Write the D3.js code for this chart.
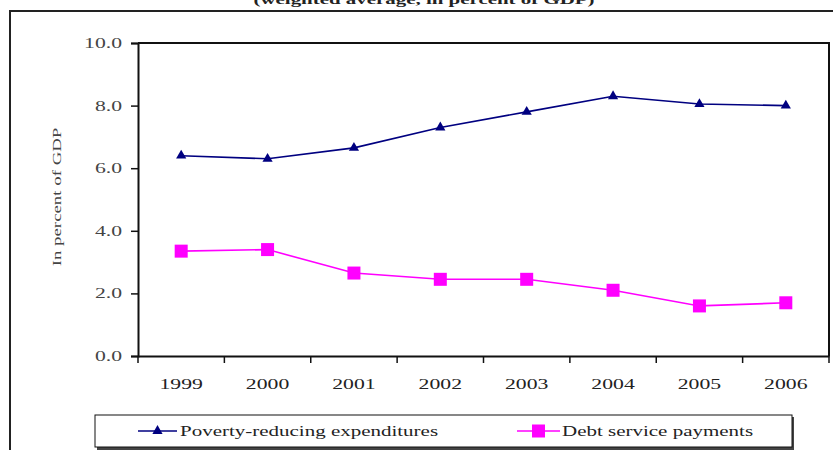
<!DOCTYPE html>
<html><head><meta charset="utf-8">
<script src="https://cdn.jsdelivr.net/npm/d3@7"></script>
<style>body{margin:0;background:#fff}svg{display:block}</style>
</head><body><svg id="c" width="833" height="450"></svg>
<script>
const years = ["1999","2000","2001","2002","2003","2004","2005","2006"];
const poverty = [6.4, 6.3, 6.65, 7.3, 7.8, 8.3, 8.05, 8.0];
const debt = [3.35, 3.4, 2.65, 2.45, 2.45, 2.1, 1.6, 1.7];
const yTicks = [0, 2, 4, 6, 8, 10];
const titleText = "(weighted average, in percent of GDP)";
const yLabel = "In percent of GDP";
const seriesNames = ["Poverty-reducing expenditures", "Debt service payments"];

const svg = d3.select("#c");
const font = "'Liberation Serif', 'Times New Roman', serif";
const SX = 1.55; // horizontal stretch of the source image's text
const L = 138, R = 829, T = 43, B = 356;

// outer frame
svg.append("rect").attr("x", 10).attr("y", 11).attr("width", 840).attr("height", 460)
  .attr("fill", "none").attr("stroke", "#222").attr("stroke-width", 2);

// title (cut off at top, as in the reference)
svg.append("text").attr("transform", `translate(424,4) scale(${SX},1)`).attr("text-anchor", "middle")
  .attr("font-family", font).attr("font-size", 13.5).attr("font-weight", "bold")
  .attr("fill", "#222").text(titleText);

const x = d3.scaleBand().domain(years).range([L, R]);
const y = d3.scaleLinear().domain([0, 10]).range([B, T]);

// plot frame top/right
svg.append("path").attr("d", `M${L},${T}H${R}V${B}`).attr("fill", "none")
  .attr("stroke", "#111").attr("stroke-width", 2);

// y axis
const ya = svg.append("g").attr("transform", `translate(${L},0)`)
  .call(d3.axisLeft(y).tickValues(yTicks).tickFormat(d3.format(".1f")).tickSize(7).tickPadding(9));
ya.select(".domain").attr("stroke", "#111").attr("stroke-width", 2);
ya.selectAll(".tick line").attr("stroke", "#111").attr("stroke-width", 1.5);
ya.selectAll("text").attr("font-family", font).attr("font-size", 14).attr("fill", "#444")
  .attr("x", -16 / SX).attr("transform", `scale(${SX},1)`);

// x axis
const xa = svg.append("g").attr("transform", `translate(0,${B})`)
  .call(d3.axisBottom(x).tickSize(0).tickPadding(23));
xa.select(".domain").attr("stroke", "#111").attr("stroke-width", 2);
xa.selectAll("text").attr("font-family", font).attr("font-size", 14).attr("fill", "#222")
  .attr("transform", `scale(${SX},1)`);
const edges = years.map(d => x(d)).concat([x(years[years.length - 1]) + x.bandwidth()]);
xa.selectAll(".edge").data(edges).enter().append("line")
  .attr("x1", d => d).attr("x2", d => d).attr("y1", 0).attr("y2", 7)
  .attr("stroke", "#111").attr("stroke-width", 1.5);

// y label
svg.append("text").attr("transform", `translate(61,197) rotate(-90) scale(1.45,1)`)
  .attr("text-anchor", "middle").attr("font-family", font).attr("font-size", 13)
  .attr("fill", "#444").text(yLabel);

const cx = d => x(d) + x.bandwidth() / 2;
const line = d3.line().x((d, i) => cx(years[i])).y(d => y(d));

// poverty series
svg.append("path").datum(poverty).attr("d", line).attr("fill", "none")
  .attr("stroke", "#000080").attr("stroke-width", 1.6);
const tri = d3.symbol().type(d3.symbolTriangle).size(45);
svg.selectAll(".tri").data(poverty).enter().append("path")
  .attr("d", tri).attr("fill", "#000080")
  .attr("transform", (d, i) => `translate(${cx(years[i])},${y(d)})`);

// debt series
svg.append("path").datum(debt).attr("d", line).attr("fill", "none")
  .attr("stroke", "#FF00FF").attr("stroke-width", 1.6);
svg.selectAll(".sq").data(debt).enter().append("rect")
  .attr("x", (d, i) => cx(years[i]) - 6.5).attr("y", d => y(d) - 6.5)
  .attr("width", 13).attr("height", 13).attr("fill", "#FF00FF");

// legend
const lg = svg.append("g");
lg.append("rect").attr("x", 97).attr("y", 417).attr("width", 697).attr("height", 33).attr("fill", "#444");
lg.append("rect").attr("x", 95).attr("y", 415).attr("width", 697).attr("height", 32)
  .attr("fill", "#fff").attr("stroke", "#111").attr("stroke-width", 1);
const ly = 431;
lg.append("line").attr("x1", 138).attr("x2", 177).attr("y1", ly).attr("y2", ly)
  .attr("stroke", "#000080").attr("stroke-width", 1.6);
lg.append("path").attr("d", tri).attr("fill", "#000080").attr("transform", `translate(157.5,${ly})`);
lg.append("text").attr("transform", `translate(180,${ly + 4.5}) scale(1.5,1)`).attr("font-family", font)
  .attr("font-size", 14).attr("fill", "#222").text(seriesNames[0]);
lg.append("line").attr("x1", 517).attr("x2", 560).attr("y1", ly).attr("y2", ly)
  .attr("stroke", "#FF00FF").attr("stroke-width", 1.6);
lg.append("rect").attr("x", 532).attr("y", ly - 6.5).attr("width", 13).attr("height", 13).attr("fill", "#FF00FF");
lg.append("text").attr("transform", `translate(562,${ly + 4.5}) scale(1.5,1)`).attr("font-family", font)
  .attr("font-size", 14).attr("fill", "#222").text(seriesNames[1]);
</script></body></html>
